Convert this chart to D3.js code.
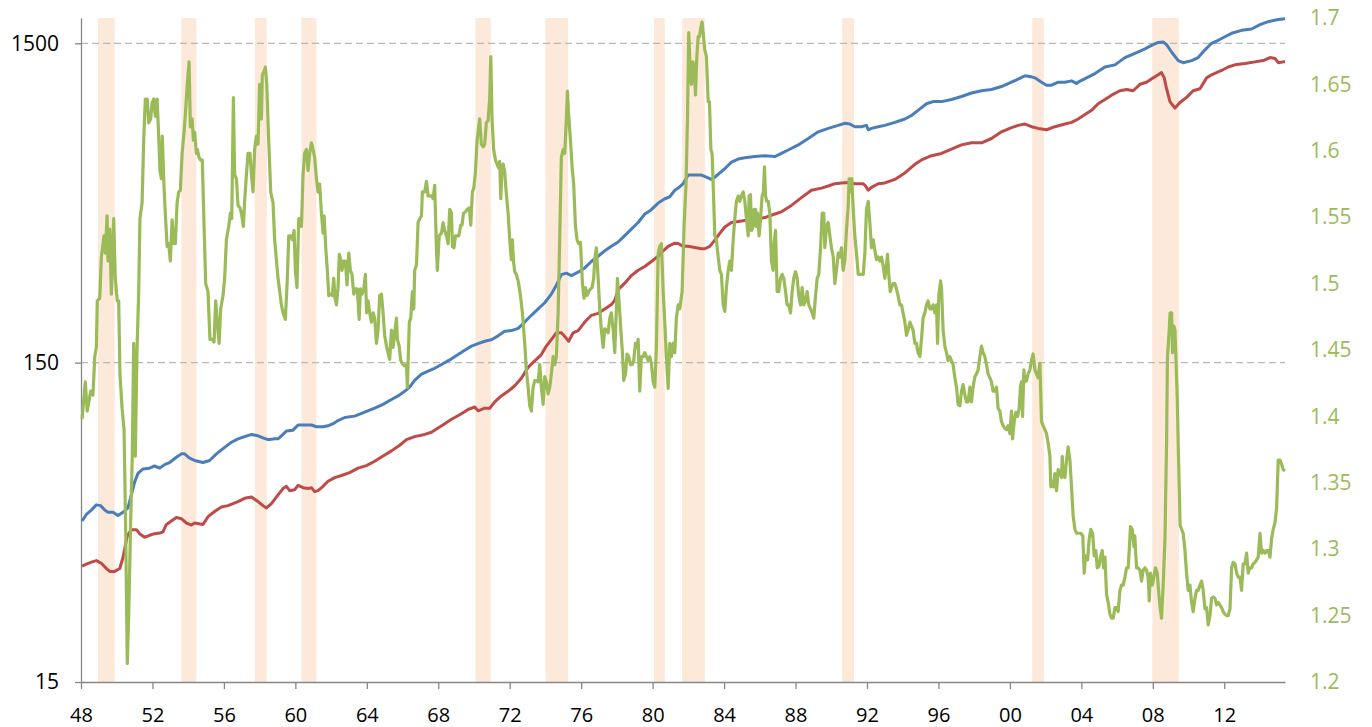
<!DOCTYPE html>
<html>
<head>
<meta charset="utf-8">
<script src="https://cdn.jsdelivr.net/npm/d3@7"></script>
<style>
  html, body { margin: 0; padding: 0; background: #fff; }
  #chart svg { display: block; }
  .axis text { font-family: "Open Sans", "Liberation Sans", sans-serif; }
</style>
</head>
<body>
<div id="chart"></div>
<script>
// Recession bands [start, end] in decimal years
const recessions = [
  [1948.95, 1949.89], [1953.62, 1954.46], [1957.73, 1958.40], [1960.34, 1961.18],
  [1970.08, 1970.94], [1974.00, 1975.27], [1980.08, 1980.68], [1981.65, 1982.92],
  [1990.61, 1991.27], [2001.25, 2001.90], [2007.97, 2009.46]
];

const xTicks = [1948, 1952, 1956, 1960, 1964, 1968, 1972, 1976, 1980, 1984, 1988, 1992, 1996, 2000, 2004, 2008, 2012];
const leftTicks = [15, 150, 1500];
const rightTicks = [1.2, 1.25, 1.3, 1.35, 1.4, 1.45, 1.5, 1.55, 1.6, 1.65, 1.7];

// Blue series (left, log axis)
const blueSeries = [
  [1948.06, 47.9], [1948.30, 50.2], [1948.58, 51.8], [1948.86, 53.8], [1949.10, 53.5], [1949.33, 51.8],
  [1949.51, 51.0], [1949.79, 51.0], [1950.07, 49.8], [1950.35, 51.0], [1950.63, 52.6], [1950.82, 57.8],
  [1951.00, 63.4], [1951.19, 67.5], [1951.47, 69.7], [1951.84, 70.1], [1952.12, 71.2], [1952.41, 70.1],
  [1952.68, 71.9], [1952.96, 73.0], [1953.34, 75.8], [1953.62, 77.7], [1953.80, 77.7], [1954.08, 75.3],
  [1954.36, 74.1], [1954.83, 73.0], [1955.20, 74.1], [1955.58, 77.7], [1956.04, 81.4], [1956.42, 84.5],
  [1956.79, 86.6], [1957.16, 88.0], [1957.54, 89.4], [1957.91, 88.5], [1958.19, 87.2], [1958.47, 86.1],
  [1958.84, 86.6], [1959.03, 86.6], [1959.31, 89.4], [1959.50, 91.6], [1959.87, 92.2], [1960.15, 95.7],
  [1960.43, 95.7], [1960.90, 95.7], [1961.18, 94.5], [1961.55, 94.5], [1961.83, 95.1], [1962.11, 96.6],
  [1962.39, 98.8], [1962.76, 101], [1963.32, 102], [1963.88, 105], [1964.44, 108], [1964.91, 111],
  [1965.38, 115], [1965.75, 118], [1966.12, 122], [1966.40, 126], [1966.68, 132], [1967.06, 138],
  [1967.43, 141], [1967.80, 144], [1968.18, 148], [1968.64, 153], [1969.11, 159], [1969.48, 164],
  [1969.86, 169], [1970.23, 172], [1970.60, 175], [1970.97, 177], [1971.35, 182], [1971.72, 188],
  [1972.09, 189], [1972.47, 192], [1972.84, 201], [1973.21, 211], [1973.59, 221], [1973.96, 231],
  [1974.33, 246], [1974.61, 262], [1974.89, 283], [1975.17, 286], [1975.45, 281], [1975.83, 288],
  [1976.20, 297], [1976.57, 311], [1976.95, 323], [1977.32, 336], [1977.69, 347], [1978.07, 358],
  [1978.44, 375], [1978.81, 393], [1979.19, 412], [1979.56, 438], [1979.93, 452], [1980.31, 474],
  [1980.68, 489], [1980.96, 496], [1981.24, 520], [1981.43, 528], [1981.71, 545], [1981.99, 580],
  [1982.36, 580], [1982.73, 580], [1983.01, 571], [1983.29, 562], [1983.48, 571], [1983.76, 589],
  [1984.04, 607], [1984.41, 637], [1984.79, 651], [1985.16, 657], [1985.72, 663], [1986.28, 667],
  [1986.84, 663], [1987.21, 678], [1987.59, 695], [1988.15, 721], [1988.71, 755], [1989.27, 792],
  [1989.83, 812], [1990.39, 830], [1990.76, 843], [1991.04, 838], [1991.32, 822], [1991.69, 822],
  [1991.97, 830], [1992.07, 804], [1992.25, 812], [1992.63, 822], [1993.00, 830], [1993.56, 848],
  [1994.12, 869], [1994.49, 891], [1994.86, 925], [1995.33, 970], [1995.70, 985], [1996.17, 985],
  [1996.73, 1000], [1997.29, 1022], [1997.85, 1048], [1998.41, 1065], [1998.97, 1075], [1999.53, 1098],
  [2000.09, 1133], [2000.46, 1158], [2000.84, 1187], [2001.12, 1180], [2001.40, 1169], [2001.77, 1133],
  [2002.05, 1109], [2002.33, 1109], [2002.70, 1133], [2003.08, 1133], [2003.45, 1144], [2003.73, 1123],
  [2003.82, 1133], [2004.29, 1169], [2004.76, 1206], [2005.32, 1264], [2005.88, 1284], [2006.44, 1353],
  [2007.00, 1396], [2007.56, 1440], [2007.93, 1477], [2008.30, 1509], [2008.58, 1514], [2008.77, 1486],
  [2009.05, 1409], [2009.42, 1324], [2009.70, 1304], [2010.17, 1324], [2010.54, 1353], [2010.92, 1431],
  [2011.29, 1500], [2011.66, 1533], [2012.04, 1572], [2012.41, 1612], [2012.97, 1647], [2013.53, 1663],
  [2014.00, 1715], [2014.46, 1753], [2015.02, 1780], [2015.40, 1791]
];

// Red series (left, log axis)
const redSeries = [
  [1948.06, 34.6], [1948.30, 35.1], [1948.58, 35.6], [1948.86, 36.0], [1949.14, 35.3], [1949.42, 34.0],
  [1949.61, 33.3], [1949.89, 33.3], [1950.17, 34.0], [1950.35, 36.8], [1950.59, 43.0], [1950.82, 45.0],
  [1951.10, 45.0], [1951.28, 43.7], [1951.56, 42.6], [1951.84, 43.2], [1952.12, 43.7], [1952.41, 43.9],
  [1952.59, 44.3], [1952.78, 46.7], [1953.06, 47.9], [1953.34, 49.1], [1953.62, 48.7], [1953.90, 47.2],
  [1954.18, 46.5], [1954.36, 47.2], [1954.83, 46.7], [1955.11, 49.4], [1955.48, 51.3], [1955.86, 53.0],
  [1956.23, 53.5], [1956.51, 54.3], [1956.79, 55.1], [1957.16, 56.4], [1957.54, 56.9], [1957.91, 55.1],
  [1958.19, 53.5], [1958.38, 52.6], [1958.66, 54.3], [1959.03, 57.8], [1959.31, 60.5], [1959.50, 61.5],
  [1959.68, 59.6], [1959.96, 60.0], [1960.15, 61.9], [1960.43, 60.9], [1960.71, 60.5], [1960.90, 60.9],
  [1961.08, 59.2], [1961.27, 59.6], [1961.55, 61.5], [1961.83, 63.8], [1962.20, 65.5], [1962.58, 66.5],
  [1963.04, 67.9], [1963.51, 70.1], [1963.98, 71.4], [1964.44, 73.7], [1964.91, 76.5], [1965.38, 79.4],
  [1965.84, 82.7], [1966.22, 86.1], [1966.68, 88.0], [1967.24, 89.4], [1967.62, 90.8], [1967.99, 93.7],
  [1968.36, 96.6], [1968.74, 99.7], [1969.20, 103], [1969.67, 107], [1970.04, 109], [1970.23, 106],
  [1970.60, 108], [1970.88, 108], [1971.16, 113], [1971.53, 118], [1971.91, 122], [1972.28, 127],
  [1972.65, 134], [1973.03, 145], [1973.40, 152], [1973.77, 159], [1974.05, 169], [1974.33, 177],
  [1974.61, 186], [1974.89, 186], [1975.12, 180], [1975.30, 175], [1975.55, 186], [1975.83, 189],
  [1976.20, 201], [1976.57, 211], [1976.95, 214], [1977.32, 221], [1977.69, 228], [1977.88, 235],
  [1978.07, 254], [1978.44, 266], [1978.81, 281], [1979.19, 292], [1979.56, 300], [1979.93, 311],
  [1980.31, 323], [1980.59, 336], [1980.87, 347], [1981.24, 355], [1981.43, 354], [1981.71, 347],
  [1981.99, 347], [1982.36, 344], [1982.73, 341], [1982.92, 341], [1983.20, 347], [1983.48, 363],
  [1983.76, 381], [1984.04, 399], [1984.41, 412], [1984.79, 415], [1985.16, 418], [1985.72, 422],
  [1986.28, 427], [1986.84, 438], [1987.21, 445], [1987.77, 466], [1988.33, 493], [1988.89, 520],
  [1989.45, 528], [1989.83, 536], [1990.20, 545], [1990.57, 548], [1990.95, 550], [1991.32, 545],
  [1991.79, 545], [1991.92, 536], [1992.07, 520], [1992.25, 531], [1992.63, 545], [1993.00, 548],
  [1993.56, 562], [1994.12, 589], [1994.68, 627], [1995.05, 647], [1995.61, 667], [1996.17, 678],
  [1996.73, 699], [1997.29, 721], [1997.85, 732], [1998.41, 732], [1998.97, 755], [1999.53, 792],
  [2000.09, 817], [2000.46, 830], [2000.84, 838], [2001.21, 822], [2001.58, 812], [2002.05, 804],
  [2002.52, 822], [2003.08, 838], [2003.45, 848], [2003.82, 869], [2004.20, 897], [2004.57, 925],
  [2004.94, 970], [2005.32, 1000], [2005.69, 1032], [2006.16, 1065], [2006.53, 1075], [2006.90, 1065],
  [2007.28, 1116], [2007.65, 1133], [2008.02, 1169], [2008.30, 1195], [2008.49, 1214], [2008.64, 1169],
  [2008.77, 1081], [2008.96, 985], [2009.24, 940], [2009.52, 979], [2009.89, 1016], [2010.26, 1065],
  [2010.64, 1081], [2011.01, 1169], [2011.29, 1195], [2011.85, 1233], [2012.22, 1264], [2012.60, 1284],
  [2013.16, 1296], [2013.72, 1312], [2014.18, 1324], [2014.56, 1353], [2014.84, 1345], [2015.02, 1304],
  [2015.30, 1312], [2015.40, 1312]
];

// Green series (right, linear axis)
const greenSeries = [
  [1948.06, 1.398], [1948.24, 1.426], [1948.35, 1.404], [1948.54, 1.419], [1948.67, 1.416], [1948.77, 1.445],
  [1948.86, 1.452], [1948.91, 1.487], [1949.05, 1.489], [1949.14, 1.520], [1949.29, 1.536], [1949.36, 1.523],
  [1949.46, 1.551], [1949.51, 1.517], [1949.61, 1.541], [1949.70, 1.492], [1949.83, 1.549], [1949.92, 1.504],
  [1950.03, 1.487], [1950.11, 1.487], [1950.18, 1.432], [1950.30, 1.406], [1950.41, 1.390], [1950.50, 1.315],
  [1950.59, 1.214], [1950.67, 1.250], [1950.78, 1.321], [1950.87, 1.370], [1950.95, 1.455], [1951.04, 1.370],
  [1951.14, 1.452], [1951.23, 1.494], [1951.30, 1.549], [1951.42, 1.561], [1951.51, 1.608], [1951.60, 1.639],
  [1951.71, 1.639], [1951.79, 1.621], [1951.90, 1.624], [1951.98, 1.636], [1952.07, 1.639], [1952.16, 1.626],
  [1952.26, 1.639], [1952.35, 1.611], [1952.42, 1.585], [1952.50, 1.579], [1952.55, 1.611], [1952.65, 1.572],
  [1952.72, 1.553], [1952.82, 1.528], [1952.91, 1.530], [1953.00, 1.517], [1953.10, 1.548], [1953.19, 1.530],
  [1953.28, 1.530], [1953.38, 1.561], [1953.47, 1.569], [1953.56, 1.570], [1953.66, 1.598], [1953.77, 1.614],
  [1953.84, 1.627], [1953.95, 1.650], [1954.05, 1.667], [1954.12, 1.618], [1954.22, 1.624], [1954.29, 1.608],
  [1954.36, 1.614], [1954.46, 1.598], [1954.51, 1.601], [1954.61, 1.595], [1954.70, 1.593], [1954.79, 1.593],
  [1954.89, 1.543], [1954.98, 1.500], [1955.11, 1.494], [1955.22, 1.458], [1955.35, 1.458], [1955.45, 1.456],
  [1955.54, 1.487], [1955.63, 1.471], [1955.73, 1.455], [1955.82, 1.481], [1955.95, 1.491], [1956.04, 1.504],
  [1956.14, 1.533], [1956.27, 1.543], [1956.36, 1.553], [1956.44, 1.549], [1956.53, 1.640], [1956.60, 1.582],
  [1956.70, 1.579], [1956.79, 1.559], [1956.90, 1.557], [1956.98, 1.553], [1957.09, 1.543], [1957.16, 1.562],
  [1957.26, 1.582], [1957.35, 1.598], [1957.46, 1.598], [1957.54, 1.582], [1957.63, 1.569], [1957.72, 1.601],
  [1957.82, 1.611], [1957.91, 1.605], [1958.00, 1.650], [1958.10, 1.624], [1958.15, 1.657], [1958.25, 1.660],
  [1958.32, 1.663], [1958.40, 1.650], [1958.49, 1.614], [1958.62, 1.569], [1958.75, 1.561], [1958.84, 1.533],
  [1959.03, 1.504], [1959.22, 1.484], [1959.31, 1.478], [1959.44, 1.473], [1959.55, 1.504], [1959.63, 1.536],
  [1959.74, 1.536], [1959.83, 1.533], [1959.93, 1.540], [1960.00, 1.510], [1960.09, 1.497], [1960.19, 1.549],
  [1960.28, 1.549], [1960.34, 1.543], [1960.43, 1.582], [1960.52, 1.598], [1960.62, 1.601], [1960.71, 1.585],
  [1960.80, 1.598], [1960.90, 1.606], [1960.99, 1.601], [1961.08, 1.595], [1961.18, 1.579], [1961.27, 1.569],
  [1961.36, 1.575], [1961.46, 1.553], [1961.55, 1.538], [1961.61, 1.551], [1961.70, 1.527], [1961.79, 1.510],
  [1961.87, 1.491], [1961.98, 1.492], [1962.07, 1.491], [1962.15, 1.504], [1962.22, 1.489], [1962.30, 1.484],
  [1962.39, 1.497], [1962.46, 1.522], [1962.54, 1.518], [1962.61, 1.510], [1962.71, 1.517], [1962.80, 1.517],
  [1962.89, 1.499], [1962.99, 1.523], [1963.08, 1.510], [1963.17, 1.507], [1963.27, 1.492], [1963.36, 1.496],
  [1963.47, 1.496], [1963.57, 1.473], [1963.64, 1.496], [1963.73, 1.492], [1963.83, 1.496], [1963.92, 1.507],
  [1963.99, 1.478], [1964.07, 1.487], [1964.16, 1.478], [1964.26, 1.471], [1964.35, 1.478], [1964.44, 1.474],
  [1964.54, 1.455], [1964.63, 1.465], [1964.72, 1.491], [1964.82, 1.492], [1964.91, 1.478], [1965.00, 1.461],
  [1965.10, 1.453], [1965.19, 1.448], [1965.28, 1.443], [1965.38, 1.465], [1965.47, 1.452], [1965.56, 1.463],
  [1965.66, 1.474], [1965.71, 1.458], [1965.81, 1.453], [1965.90, 1.442], [1966.03, 1.439], [1966.12, 1.438],
  [1966.22, 1.439], [1966.27, 1.422], [1966.38, 1.471], [1966.46, 1.474], [1966.55, 1.494], [1966.63, 1.481],
  [1966.68, 1.510], [1966.78, 1.514], [1966.87, 1.546], [1966.96, 1.549], [1967.06, 1.551], [1967.11, 1.569],
  [1967.24, 1.569], [1967.34, 1.577], [1967.43, 1.566], [1967.52, 1.566], [1967.62, 1.566], [1967.71, 1.564],
  [1967.80, 1.574], [1967.90, 1.525], [1967.95, 1.510], [1968.05, 1.536], [1968.18, 1.538], [1968.27, 1.546],
  [1968.36, 1.540], [1968.46, 1.536], [1968.55, 1.530], [1968.64, 1.556], [1968.74, 1.553], [1968.79, 1.528],
  [1968.88, 1.527], [1968.96, 1.536], [1969.05, 1.536], [1969.15, 1.536], [1969.26, 1.544], [1969.33, 1.544],
  [1969.41, 1.553], [1969.52, 1.554], [1969.63, 1.556], [1969.74, 1.557], [1969.82, 1.544], [1969.91, 1.569],
  [1969.99, 1.572], [1970.08, 1.584], [1970.17, 1.608], [1970.32, 1.624], [1970.41, 1.605], [1970.51, 1.603],
  [1970.60, 1.605], [1970.69, 1.621], [1970.79, 1.623], [1970.88, 1.640], [1970.94, 1.671], [1971.01, 1.624],
  [1971.10, 1.601], [1971.20, 1.593], [1971.29, 1.590], [1971.38, 1.587], [1971.44, 1.592], [1971.50, 1.564],
  [1971.57, 1.588], [1971.63, 1.590], [1971.72, 1.584], [1971.80, 1.569], [1971.91, 1.553], [1972.00, 1.533],
  [1972.09, 1.518], [1972.15, 1.533], [1972.21, 1.517], [1972.28, 1.509], [1972.37, 1.507], [1972.47, 1.502],
  [1972.50, 1.500], [1972.60, 1.491], [1972.71, 1.478], [1972.84, 1.455], [1972.93, 1.435], [1973.03, 1.422],
  [1973.12, 1.408], [1973.21, 1.404], [1973.31, 1.422], [1973.40, 1.427], [1973.49, 1.427], [1973.59, 1.426],
  [1973.68, 1.439], [1973.77, 1.422], [1973.87, 1.409], [1973.96, 1.430], [1974.05, 1.426], [1974.15, 1.417],
  [1974.24, 1.422], [1974.33, 1.432], [1974.43, 1.445], [1974.52, 1.439], [1974.61, 1.445], [1974.71, 1.478],
  [1974.80, 1.536], [1974.89, 1.595], [1974.99, 1.601], [1975.08, 1.598], [1975.17, 1.624], [1975.23, 1.645],
  [1975.30, 1.627], [1975.40, 1.608], [1975.49, 1.588], [1975.58, 1.575], [1975.68, 1.543], [1975.77, 1.533],
  [1975.86, 1.530], [1975.96, 1.531], [1976.01, 1.517], [1976.07, 1.500], [1976.16, 1.489], [1976.24, 1.497],
  [1976.33, 1.491], [1976.42, 1.494], [1976.52, 1.496], [1976.61, 1.497], [1976.70, 1.504], [1976.76, 1.518],
  [1976.85, 1.527], [1976.95, 1.504], [1977.04, 1.481], [1977.13, 1.465], [1977.23, 1.452], [1977.32, 1.466],
  [1977.41, 1.465], [1977.51, 1.463], [1977.60, 1.474], [1977.69, 1.478], [1977.79, 1.465], [1977.88, 1.448],
  [1977.97, 1.481], [1978.03, 1.504], [1978.10, 1.491], [1978.22, 1.465], [1978.31, 1.448], [1978.38, 1.427],
  [1978.48, 1.432], [1978.57, 1.447], [1978.66, 1.445], [1978.76, 1.439], [1978.85, 1.439], [1978.94, 1.442],
  [1979.04, 1.455], [1979.13, 1.452], [1979.19, 1.458], [1979.28, 1.419], [1979.37, 1.445], [1979.47, 1.445],
  [1979.56, 1.448], [1979.65, 1.445], [1979.75, 1.442], [1979.84, 1.445], [1979.93, 1.440], [1980.03, 1.426],
  [1980.12, 1.422], [1980.21, 1.452], [1980.31, 1.523], [1980.40, 1.528], [1980.49, 1.530], [1980.59, 1.494],
  [1980.68, 1.471], [1980.77, 1.445], [1980.87, 1.421], [1980.96, 1.455], [1981.05, 1.445], [1981.15, 1.455],
  [1981.24, 1.448], [1981.33, 1.474], [1981.43, 1.484], [1981.52, 1.481], [1981.65, 1.494], [1981.76, 1.543],
  [1981.87, 1.575], [1981.95, 1.624], [1982.02, 1.689], [1982.10, 1.663], [1982.17, 1.650], [1982.25, 1.667],
  [1982.32, 1.663], [1982.40, 1.642], [1982.47, 1.670], [1982.55, 1.686], [1982.62, 1.686], [1982.70, 1.693],
  [1982.77, 1.697], [1982.85, 1.686], [1982.92, 1.676], [1983.01, 1.671], [1983.11, 1.637], [1983.18, 1.637],
  [1983.26, 1.601], [1983.33, 1.598], [1983.41, 1.566], [1983.48, 1.536], [1983.57, 1.533], [1983.67, 1.520],
  [1983.76, 1.510], [1983.85, 1.507], [1983.95, 1.484], [1984.04, 1.479], [1984.13, 1.497], [1984.23, 1.510],
  [1984.32, 1.517], [1984.41, 1.510], [1984.51, 1.533], [1984.60, 1.549], [1984.69, 1.562], [1984.79, 1.566],
  [1984.88, 1.562], [1984.97, 1.566], [1985.07, 1.569], [1985.16, 1.562], [1985.25, 1.549], [1985.35, 1.536],
  [1985.40, 1.566], [1985.48, 1.567], [1985.53, 1.540], [1985.63, 1.543], [1985.68, 1.556], [1985.76, 1.556],
  [1985.81, 1.543], [1985.87, 1.553], [1985.96, 1.536], [1986.04, 1.549], [1986.13, 1.566], [1986.20, 1.569],
  [1986.26, 1.588], [1986.32, 1.566], [1986.39, 1.562], [1986.47, 1.562], [1986.56, 1.553], [1986.65, 1.517],
  [1986.75, 1.510], [1986.80, 1.530], [1986.88, 1.540], [1986.97, 1.494], [1987.06, 1.494], [1987.16, 1.504],
  [1987.25, 1.507], [1987.34, 1.504], [1987.44, 1.494], [1987.53, 1.484], [1987.62, 1.484], [1987.72, 1.478],
  [1987.81, 1.494], [1987.90, 1.504], [1988.00, 1.509], [1988.09, 1.504], [1988.18, 1.491], [1988.28, 1.484],
  [1988.37, 1.497], [1988.46, 1.484], [1988.56, 1.487], [1988.65, 1.494], [1988.74, 1.484], [1988.84, 1.481],
  [1988.93, 1.478], [1989.02, 1.474], [1989.12, 1.491], [1989.21, 1.504], [1989.30, 1.507], [1989.40, 1.527],
  [1989.49, 1.553], [1989.58, 1.553], [1989.64, 1.527], [1989.73, 1.543], [1989.83, 1.546], [1989.92, 1.536],
  [1990.01, 1.527], [1990.11, 1.520], [1990.20, 1.500], [1990.29, 1.510], [1990.39, 1.523], [1990.48, 1.520],
  [1990.57, 1.527], [1990.67, 1.510], [1990.76, 1.518], [1990.85, 1.540], [1990.95, 1.559], [1991.00, 1.579],
  [1991.08, 1.569], [1991.15, 1.579], [1991.23, 1.556], [1991.32, 1.536], [1991.41, 1.523], [1991.51, 1.507],
  [1991.60, 1.507], [1991.69, 1.507], [1991.79, 1.507], [1991.88, 1.523], [1991.97, 1.556], [1992.07, 1.562],
  [1992.16, 1.546], [1992.25, 1.527], [1992.35, 1.533], [1992.44, 1.525], [1992.53, 1.518], [1992.63, 1.520],
  [1992.72, 1.517], [1992.81, 1.520], [1992.90, 1.514], [1993.00, 1.504], [1993.09, 1.514], [1993.15, 1.522],
  [1993.22, 1.507], [1993.30, 1.494], [1993.37, 1.497], [1993.46, 1.500], [1993.56, 1.500], [1993.65, 1.496],
  [1993.74, 1.491], [1993.84, 1.484], [1993.93, 1.484], [1994.02, 1.478], [1994.12, 1.471], [1994.21, 1.461],
  [1994.30, 1.465], [1994.40, 1.471], [1994.49, 1.468], [1994.58, 1.465], [1994.68, 1.455], [1994.77, 1.455],
  [1994.86, 1.448], [1994.96, 1.445], [1995.05, 1.458], [1995.14, 1.474], [1995.24, 1.478], [1995.33, 1.484],
  [1995.42, 1.487], [1995.52, 1.481], [1995.61, 1.481], [1995.70, 1.484], [1995.80, 1.478], [1995.89, 1.484],
  [1995.95, 1.455], [1996.02, 1.491], [1996.12, 1.502], [1996.17, 1.497], [1996.26, 1.465], [1996.36, 1.453],
  [1996.45, 1.448], [1996.54, 1.442], [1996.64, 1.445], [1996.73, 1.442], [1996.82, 1.439], [1996.92, 1.429],
  [1997.01, 1.422], [1997.10, 1.409], [1997.20, 1.408], [1997.29, 1.419], [1997.38, 1.424], [1997.48, 1.416],
  [1997.57, 1.411], [1997.66, 1.411], [1997.76, 1.422], [1997.85, 1.411], [1997.94, 1.422], [1998.04, 1.430],
  [1998.13, 1.432], [1998.22, 1.435], [1998.32, 1.445], [1998.41, 1.453], [1998.50, 1.448], [1998.60, 1.445],
  [1998.69, 1.439], [1998.78, 1.432], [1998.88, 1.429], [1998.97, 1.426], [1999.06, 1.419], [1999.16, 1.419],
  [1999.25, 1.422], [1999.34, 1.406], [1999.44, 1.404], [1999.53, 1.396], [1999.62, 1.393], [1999.72, 1.391],
  [1999.81, 1.390], [1999.90, 1.393], [2000.00, 1.387], [2000.09, 1.404], [2000.15, 1.383], [2000.24, 1.396],
  [2000.33, 1.403], [2000.43, 1.400], [2000.52, 1.406], [2000.59, 1.422], [2000.65, 1.426], [2000.71, 1.400],
  [2000.78, 1.435], [2000.84, 1.426], [2000.93, 1.427], [2001.02, 1.432], [2001.12, 1.435], [2001.21, 1.442],
  [2001.30, 1.447], [2001.40, 1.435], [2001.49, 1.432], [2001.58, 1.429], [2001.68, 1.440], [2001.77, 1.396],
  [2001.86, 1.393], [2001.96, 1.390], [2002.05, 1.387], [2002.14, 1.380], [2002.24, 1.370], [2002.29, 1.347],
  [2002.37, 1.351], [2002.44, 1.347], [2002.52, 1.357], [2002.61, 1.344], [2002.70, 1.360], [2002.80, 1.357],
  [2002.89, 1.354], [2002.93, 1.370], [2002.98, 1.357], [2003.08, 1.354], [2003.17, 1.367], [2003.26, 1.377],
  [2003.36, 1.367], [2003.45, 1.347], [2003.54, 1.325], [2003.64, 1.315], [2003.73, 1.312], [2003.82, 1.312],
  [2003.97, 1.312], [2004.08, 1.310], [2004.16, 1.282], [2004.23, 1.295], [2004.35, 1.292], [2004.44, 1.308],
  [2004.53, 1.315], [2004.63, 1.312], [2004.72, 1.295], [2004.81, 1.299], [2004.89, 1.286], [2004.98, 1.287],
  [2005.07, 1.294], [2005.17, 1.299], [2005.24, 1.286], [2005.32, 1.294], [2005.41, 1.266], [2005.50, 1.260],
  [2005.60, 1.251], [2005.69, 1.248], [2005.78, 1.248], [2005.88, 1.256], [2005.97, 1.256], [2006.06, 1.253],
  [2006.16, 1.269], [2006.25, 1.273], [2006.34, 1.273], [2006.44, 1.279], [2006.53, 1.286], [2006.62, 1.286],
  [2006.68, 1.299], [2006.75, 1.317], [2006.85, 1.315], [2006.94, 1.302], [2006.99, 1.310], [2007.09, 1.286],
  [2007.18, 1.286], [2007.28, 1.284], [2007.37, 1.276], [2007.46, 1.284], [2007.56, 1.286], [2007.65, 1.284],
  [2007.74, 1.279], [2007.80, 1.261], [2007.87, 1.282], [2007.97, 1.273], [2008.06, 1.279], [2008.15, 1.286],
  [2008.25, 1.282], [2008.34, 1.266], [2008.41, 1.256], [2008.49, 1.248], [2008.58, 1.273], [2008.68, 1.308],
  [2008.77, 1.380], [2008.82, 1.445], [2008.90, 1.461], [2008.97, 1.478], [2009.05, 1.478], [2009.10, 1.448],
  [2009.18, 1.468], [2009.24, 1.465], [2009.29, 1.445], [2009.37, 1.413], [2009.42, 1.380], [2009.48, 1.347],
  [2009.53, 1.318], [2009.61, 1.315], [2009.70, 1.312], [2009.80, 1.299], [2009.89, 1.282], [2009.98, 1.269],
  [2010.08, 1.273], [2010.17, 1.260], [2010.26, 1.253], [2010.36, 1.263], [2010.45, 1.269], [2010.54, 1.269],
  [2010.64, 1.273], [2010.73, 1.276], [2010.82, 1.269], [2010.92, 1.255], [2011.01, 1.256], [2011.10, 1.243],
  [2011.20, 1.250], [2011.29, 1.263], [2011.38, 1.264], [2011.48, 1.263], [2011.57, 1.258], [2011.66, 1.260],
  [2011.76, 1.258], [2011.85, 1.256], [2011.94, 1.253], [2012.04, 1.251], [2012.13, 1.250], [2012.22, 1.250],
  [2012.32, 1.255], [2012.41, 1.286], [2012.50, 1.290], [2012.60, 1.289], [2012.69, 1.282], [2012.78, 1.279],
  [2012.88, 1.279], [2012.97, 1.269], [2013.06, 1.289], [2013.16, 1.289], [2013.25, 1.297], [2013.34, 1.282],
  [2013.44, 1.286], [2013.53, 1.286], [2013.62, 1.289], [2013.72, 1.290], [2013.81, 1.292], [2013.90, 1.294],
  [2014.00, 1.312], [2014.09, 1.297], [2014.19, 1.299], [2014.28, 1.297], [2014.37, 1.299], [2014.46, 1.299],
  [2014.56, 1.294], [2014.65, 1.308], [2014.74, 1.315], [2014.84, 1.320], [2014.93, 1.331], [2015.02, 1.367],
  [2015.12, 1.367], [2015.21, 1.364], [2015.30, 1.360], [2015.40, 1.359]
];

const width = 1372, height = 727;
const plot = { left: 81, right: 1285, top: 18, bottom: 682 };

const svg = d3.select("#chart").append("svg")
  .attr("width", width)
  .attr("height", height);

const x = d3.scaleLinear().domain([1948, 2015.4]).range([plot.left, plot.right]);
const yLeft = d3.scaleLog().domain([15, 1800]).range([plot.bottom, plot.top]);
const yRight = d3.scaleLinear().domain([1.2, 1.7]).range([plot.bottom, plot.top]);

// Recession shading
svg.append("g")
  .selectAll("rect")
  .data(recessions)
  .join("rect")
  .attr("x", d => x(d[0]))
  .attr("y", plot.top)
  .attr("width", d => x(d[1]) - x(d[0]))
  .attr("height", plot.bottom - plot.top)
  .attr("fill", "#fde9da");

// Dashed gridlines at 150 and 1500
svg.append("g")
  .selectAll("line")
  .data(leftTicks.slice(1))
  .join("line")
  .attr("x1", plot.left)
  .attr("x2", plot.right)
  .attr("y1", d => yLeft(d))
  .attr("y2", d => yLeft(d))
  .attr("stroke", "#b8b8b8")
  .attr("stroke-width", 1.2)
  .attr("stroke-dasharray", "7,4");

// Axes
const leftAxis = svg.append("g")
  .attr("class", "axis")
  .attr("transform", `translate(${plot.left},0)`)
  .call(d3.axisLeft(yLeft).tickValues(leftTicks).tickFormat(d3.format("d")).tickSize(6).tickSizeOuter(0).tickPadding(16));

const bottomAxis = svg.append("g")
  .attr("class", "axis")
  .attr("transform", `translate(0,${plot.bottom})`)
  .call(d3.axisBottom(x).tickValues(xTicks)
    .tickFormat(d => String(d % 100).padStart(2, "0"))
    .tickSize(7).tickSizeOuter(0).tickPadding(19));

const rightAxis = svg.append("g")
  .attr("class", "axis")
  .attr("transform", `translate(${plot.right},0)`)
  .call(d3.axisRight(yRight).tickValues(rightTicks).tickFormat(d => String(d)).tickSize(0).tickPadding(25));

[leftAxis, bottomAxis].forEach(g => {
  g.selectAll(".domain, .tick line").attr("stroke", "#868686").attr("stroke-width", 1.3);
});
rightAxis.select(".domain").remove();

leftAxis.selectAll("text").attr("font-size", 21).attr("fill", "#000");
bottomAxis.selectAll("text").attr("font-size", 20).attr("fill", "#000");
rightAxis.selectAll("text").attr("font-size", 21).attr("fill", "#9bbb59");

// Lines
const lineLeft = d3.line().x(d => x(d[0])).y(d => yLeft(d[1]));
const lineRight = d3.line().x(d => x(d[0])).y(d => yRight(d[1]));

svg.append("path")
  .datum(blueSeries)
  .attr("fill", "none")
  .attr("stroke", "#4a7ebb")
  .attr("stroke-width", 3)
  .attr("stroke-linejoin", "round")
  .attr("d", lineLeft);

svg.append("path")
  .datum(redSeries)
  .attr("fill", "none")
  .attr("stroke", "#be4b48")
  .attr("stroke-width", 3)
  .attr("stroke-linejoin", "round")
  .attr("d", lineLeft);

svg.append("path")
  .datum(greenSeries)
  .attr("fill", "none")
  .attr("stroke", "#9bbb59")
  .attr("stroke-width", 3.2)
  .attr("stroke-linejoin", "round")
  .attr("d", lineRight);
</script>
</body>
</html>
